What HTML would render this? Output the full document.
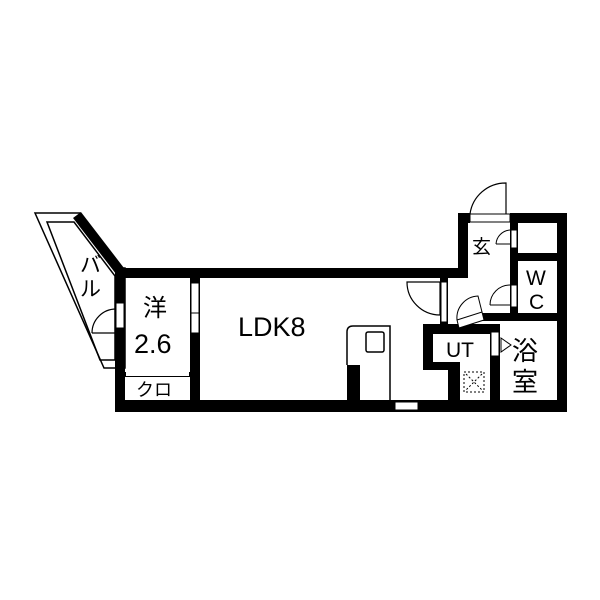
<!DOCTYPE html>
<html><head><style>body{margin:0;background:#fff}svg{display:block}text{font-family:"Liberation Sans","Noto Sans CJK JP",sans-serif;fill:#000}</style></head><body>
<svg width="600" height="600" viewBox="0 0 600 600">
<polygon points="35,213 80,213 122,268 125,268 125,368 104,368" fill="none" stroke="#000" stroke-width="1.5"/>
<polygon points="47,222 74,222 115,276 115,360 100,360" fill="none" stroke="#000" stroke-width="1.5"/>
<line x1="77" y1="215" x2="120" y2="271" stroke="#000" stroke-width="10"/>
<path d="M92,333 A24,24 0 0 1 116,309" fill="none" stroke="#000" stroke-width="1.2"/>
<line x1="92" y1="333" x2="116" y2="333" stroke="#000" stroke-width="1.2"/>
<text x="80" y="272" font-size="21">バ</text><text x="80" y="296" font-size="21">ル</text>
<g fill="#000">
<rect x="115" y="268" width="352" height="10"/>
<rect x="458" y="213" width="10" height="65"/>
<rect x="458" y="213" width="12" height="10"/>
<rect x="510" y="213" width="57" height="10"/>
<rect x="557" y="213" width="10" height="199"/>
<rect x="115" y="400" width="452" height="12"/>
<rect x="115" y="268" width="10" height="144"/>
<rect x="510" y="213" width="8" height="107"/>
<rect x="510" y="253" width="57" height="8"/>
<rect x="480" y="313" width="87" height="8"/>
<rect x="423" y="324" width="67" height="10"/>
<rect x="423" y="324" width="10" height="46"/>
<rect x="423" y="362" width="36" height="8"/>
<rect x="448" y="362" width="12" height="40"/>
<rect x="490" y="324" width="10" height="78"/>
<rect x="440" y="278" width="8" height="48"/>
<rect x="190" y="278" width="10" height="124"/>
<rect x="125" y="372" width="65" height="5"/>
<rect x="347" y="365" width="13" height="37"/>
</g>
<rect x="116" y="303" width="8" height="25" fill="#fff" stroke="#000"/>
<rect x="191" y="283" width="8" height="50" fill="#fff" stroke="#000"/>
<line x1="191" y1="313" x2="199" y2="313" stroke="#000"/>
<rect x="126" y="372" width="63" height="4" fill="#fff"/>
<rect x="395" y="402" width="23" height="8" fill="#fff" stroke="#000"/>
<rect x="470" y="214" width="40" height="8" fill="#fff" stroke="#000"/>
<path d="M470,214 A36,36 0 0 1 506,183 L506,214" fill="none" stroke="#000" stroke-width="1.2"/>
<rect x="511" y="230" width="6" height="18" fill="#fff" stroke="#000"/>
<path d="M510,230 A15,15 0 0 0 496,244" fill="none" stroke="#000"/>
<line x1="496" y1="244" x2="510" y2="244" stroke="#000"/>
<rect x="511" y="285" width="6" height="22" fill="#fff" stroke="#000"/>
<path d="M510,285 A20,20 0 0 0 490,305" fill="none" stroke="#000"/>
<line x1="490" y1="305" x2="510" y2="305" stroke="#000"/>
<rect x="441" y="282" width="6" height="40" fill="#fff" stroke="#000"/>
<path d="M407,282 A33,33 0 0 0 440,315 L440,282 Z" fill="none" stroke="#000" stroke-width="1.2"/>
<line x1="407" y1="282" x2="440" y2="282" stroke="#000"/>
<polygon points="457,320 482,312 484,320 459,328" fill="#fff" stroke="#000"/>
<path d="M457,320 A22,22 0 0 1 478,296 L482,312" fill="none" stroke="#000"/>
<rect x="491" y="332" width="8" height="24" fill="#fff" stroke="#000"/>
<polygon points="501,338 511,345 501,352" fill="none" stroke="#000"/>
<path d="M347,365 V332 Q347,326 353,326 H390 V400" fill="none" stroke="#000" stroke-width="1.5"/>
<rect x="366" y="332" width="18" height="20" rx="2" fill="none" stroke="#000" stroke-width="1.5"/>
<rect x="464" y="372" width="20" height="20" fill="none" stroke="#000" stroke-dasharray="2,2"/>
<line x1="466" y1="374" x2="482" y2="390" stroke="#000" stroke-dasharray="2,2"/><line x1="482" y1="374" x2="466" y2="390" stroke="#000" stroke-dasharray="2,2"/>
<text x="143" y="316" font-size="24">洋</text>
<text x="134" y="353" font-size="27">2.6</text>
<text x="136" y="396" font-size="18">クロ</text>
<text x="238" y="336" font-size="27">LDK8</text>
<text x="472" y="253" font-size="19">玄</text>
<text x="526" y="285" font-size="21">W</text>
<text x="529" y="309" font-size="21">C</text>
<text x="446" y="357" font-size="21">UT</text>
<text x="512" y="360" font-size="26">浴</text>
<text x="512" y="391" font-size="26">室</text>
</svg>
</body></html>
